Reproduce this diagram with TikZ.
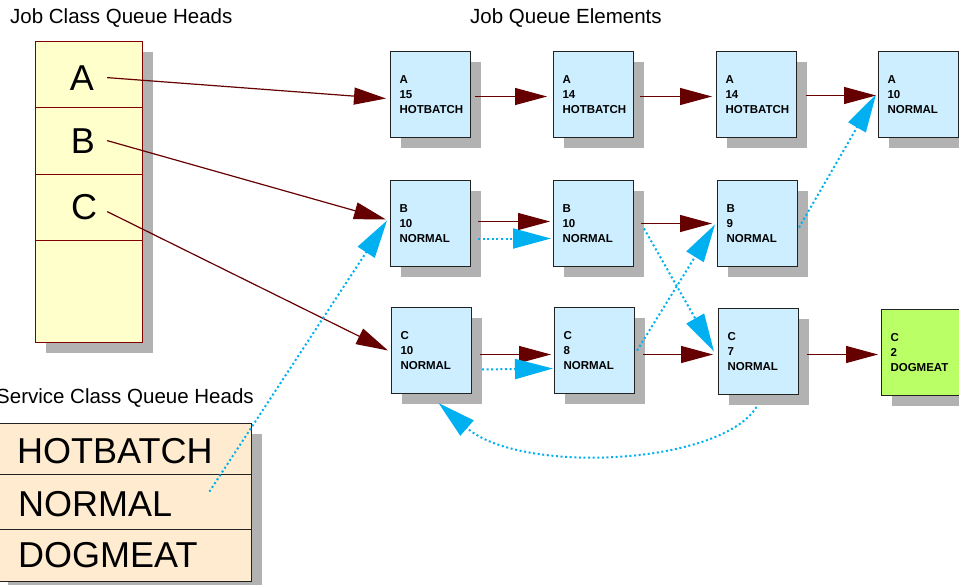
\documentclass[tikz,border=0pt]{standalone}
\usepackage{fontspec}
\setmainfont{Liberation Sans}
\usetikzlibrary{arrows.meta,shadows,calc}
\definecolor{boxfill}{RGB}{204,238,255}
\definecolor{greenfill}{RGB}{187,255,102}
\definecolor{shadowgray}{RGB}{178,178,178}
\definecolor{yellowfill}{RGB}{255,255,204}
\definecolor{peachfill}{RGB}{255,235,208}
\definecolor{darkred}{RGB}{102,0,0}
\definecolor{tabred}{RGB}{128,0,0}
\definecolor{dotblue}{RGB}{0,176,240}
\definecolor{boxline}{RGB}{34,34,34}
\begin{document}
\begin{tikzpicture}[x=1pt,y=-1pt,
  shad/.style={drop shadow={shadow xshift=10pt,shadow yshift=-10pt,fill=shadowgray,opacity=1}},
  jbox/.style={shad,draw=boxline,line width=1pt,fill=boxfill,rectangle,anchor=north west,
    minimum width=80pt,minimum height=86pt,text width=62pt,inner xsep=9pt,inner ysep=0pt,align=left,
    font=\fontsize{11.5}{15.4}\selectfont\bfseries},
  gbox/.style={jbox,fill=greenfill},
  title/.style={anchor=base west,inner sep=0pt,font=\fontsize{20.5}{24}\selectfont},
  bigtext/.style={inner sep=0pt,font=\fontsize{36}{40}\selectfont},
  redarrow/.style={draw=darkred,line width=1.2pt,-{Triangle[length=32pt,width=17pt]}},
  bluearrow/.style={draw=dotblue,line width=2pt,dash pattern=on 2pt off 2.6pt,-{Triangle[length=38pt,width=20pt]}}
]
\useasboundingbox (0,0) rectangle (959,584);
% titles
\node[title] (t1) at (10,23) {Job Class Queue Heads};
\node[title] (t2) at (470,23) {Job Queue Elements};
\node[title] (t3) at (-4,403) {Service Class Queue Heads};
% job class table
\node[shad,draw=tabred,line width=1pt,fill=yellowfill,anchor=north west,minimum width=107pt,minimum height=301pt,inner sep=0pt] (jtab) at (35,41) {};
\draw[tabred,line width=1pt] ($(jtab.north west)+(0,66)$) -- ($(jtab.north east)+(0,66)$);
\draw[tabred,line width=1pt] ($(jtab.north west)+(0,133)$) -- ($(jtab.north east)+(0,133)$);
\draw[tabred,line width=1pt] ($(jtab.north west)+(0,199)$) -- ($(jtab.north east)+(0,199)$);
\node[bigtext,anchor=base] (LA) at (82,90) {A};
\node[bigtext,anchor=base] (LB) at (83,153) {B};
\node[bigtext,anchor=base] (LC) at (84,219) {C};
% service class table
\node[shad,draw=boxline,line width=1pt,fill=peachfill,anchor=north west,minimum width=254pt,minimum height=158pt,inner sep=0pt] (stab) at (-3,423) {};
\draw[boxline,line width=1pt] ($(stab.north west)+(0,51)$) -- ($(stab.north east)+(0,51)$);
\draw[boxline,line width=1pt] ($(stab.north west)+(0,106)$) -- ($(stab.north east)+(0,106)$);
\node[bigtext,anchor=base west] (SH) at (17,463) {HOTBATCH};
\node[bigtext,anchor=base west] (SN) at (18,516) {NORMAL};
\node[bigtext,anchor=base west] (SD) at (18,567) {DOGMEAT};
% job queue elements
\node[jbox] (A1) at (390,51) {A\\15\\HOTBATCH};
\node[jbox] (A2) at (553,51) {A\\14\\HOTBATCH};
\node[jbox] (A3) at (716,51) {A\\14\\HOTBATCH};
\node[jbox] (A4) at (878,51) {A\\10\\NORMAL};
\node[jbox] (B1) at (390,180) {B\\10\\NORMAL};
\node[jbox] (B2) at (553,180) {B\\10\\NORMAL};
\node[jbox] (B3) at (717,180) {B\\9\\NORMAL};
\node[jbox] (C1) at (391,307) {C\\10\\NORMAL};
\node[jbox] (C2) at (554,307) {C\\8\\NORMAL};
\node[jbox] (C3) at (718,308) {C\\7\\NORMAL};
\node[gbox] (C4) at (881,309) {C\\2\\DOGMEAT};
% start coordinates
\coordinate (sA) at ($(LA.east)+(13,0)$);
\coordinate (sB) at ($(LB.east)+(12,0)$);
\coordinate (sC) at ($(LC.east)+(10,5)$);
\coordinate (sN) at ($(SN.east)+(37,-12)$);
% red arrows
\draw[redarrow] (sA) -- ($(A1.west)+(-4,4)$);
\draw[redarrow] (sB) -- ($(B1.west)+(-4,-4)$);
\draw[redarrow] (sC) -- ($(C1.west)+(-3,0)$);
\draw[redarrow] ($(A1.east)+(4,2)$) -- ($(A2.west)+(-6,2)$);
\draw[redarrow] ($(A2.east)+(6,2)$) -- ($(A3.west)+(-4,2)$);
\draw[redarrow] ($(A3.east)+(9,1)$) -- ($(A4.west)+(-2,1)$);
\draw[redarrow] ($(B1.east)+(7,-2)$) -- ($(B2.west)+(-3,-2)$);
\draw[redarrow] ($(B2.east)+(7,0)$) -- ($(B3.west)+(-5,0)$);
\draw[redarrow] ($(C1.east)+(8,4)$) -- ($(C2.west)+(-3,4)$);
\draw[redarrow] ($(C2.east)+(8,4)$) -- ($(C3.west)+(-5,3)$);
\draw[redarrow] ($(C3.east)+(8,3)$) -- ($(C4.west)+(-3,2)$);
% blue dotted arrows
\draw[bluearrow] (sN) -- ($(B1.west)+(-3,-3)$);
\draw[bluearrow] ($(B1.east)+(7,15)$) -- ($(B2.west)+(-2,15)$);
\draw[bluearrow] ($(C1.east)+(10,19)$) -- ($(C2.west)+(-1,18)$);
\draw[bluearrow] ($(B2.east)+(10,5)$) -- ($(C3.west)+(-4,0)$);
\draw[bluearrow] ($(C2.east)+(2,0)$) -- ($(B3.west)+(-2,1)$);
\draw[bluearrow] ($(B3.east)+(1,4)$) -- ($(A4.west)+(-2,0)$);
\draw[bluearrow] ($(C3.south)+(-2,12)$) .. controls +(-36,58) and +(82,72) .. ($(C1.south)+(7,9)$);
\end{tikzpicture}
\end{document}
